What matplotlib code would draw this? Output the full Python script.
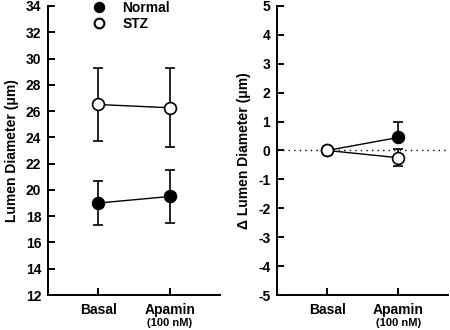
import matplotlib
matplotlib.use("Agg")
import matplotlib.pyplot as plt
from matplotlib.lines import Line2D
from matplotlib.transforms import blended_transform_factory

plt.rcParams["font.family"] = ["Liberation Sans", "DejaVu Sans"]
plt.rcParams["font.weight"] = "bold"
plt.rcParams["axes.unicode_minus"] = False

# Data
conditions = ["Basal", "Apamin"]
normal_mean = [19.0, 19.5]
normal_sem = [1.65, 2.0]
stz_mean = [26.5, 26.25]
stz_sem = [2.8, 3.0]

delta_normal = [0.0, 0.45]
delta_normal_sem = [0.0, 0.55]
delta_stz = [0.0, -0.25]
delta_stz_sem = [0.0, 0.3]

left_ticks = list(range(12, 35, 2))
right_ticks = list(range(-5, 6))
x = [0, 1]

fig = plt.figure(figsize=(4.5, 3.3), dpi=100)
ax1 = fig.add_axes([0.107, 0.106, 0.382, 0.876])
ax2 = fig.add_axes([0.616, 0.106, 0.380, 0.876])

FS = 10
mk = dict(marker="o", markersize=8.5, markeredgewidth=1.2, markeredgecolor="black",
          color="black", linewidth=1.0, capsize=3.6, elinewidth=1.2, capthick=1.2)

# left panel: absolute diameter
ax1.errorbar(x, normal_mean, yerr=normal_sem, markerfacecolor="black", zorder=3, **mk)
ax1.errorbar(x, stz_mean, yerr=stz_sem, markerfacecolor="white", zorder=3, **mk)
ax1.set_ylim(12, 34)
ax1.set_ylabel("Lumen Diameter (μm)", fontsize=10, fontweight="bold", labelpad=5)

handles = [
    Line2D([], [], linestyle="none", marker="o", markersize=7, color="black",
           markerfacecolor="black", markeredgewidth=1.2),
    Line2D([], [], linestyle="none", marker="o", markersize=7, color="black",
           markerfacecolor="white", markeredgewidth=1.5),
]
ax1.legend(handles, ["Normal", "STZ"], loc="upper left", bbox_to_anchor=(0.20, 1.05),
           frameon=False, fontsize=10, handlelength=1.0, handletextpad=1.15,
           labelspacing=0.15, borderpad=0.2)

# right panel: change from basal
ax2.axhline(0, color="black", linestyle=(0, (1, 3)), linewidth=1.0, zorder=1)
ax2.errorbar(x, delta_normal, yerr=[[0, 0], delta_normal_sem], markerfacecolor="black", zorder=3, **mk)
ax2.errorbar(x, delta_stz, yerr=delta_stz_sem, markerfacecolor="white", zorder=4, **mk)
ax2.set_ylim(-5, 5)
ax2.set_ylabel("Δ Lumen Diameter (μm)", fontsize=10, fontweight="bold", labelpad=5)

for ax, yt in ((ax1, left_ticks), (ax2, right_ticks)):
    ax.set_xlim(-0.7, 1.7)
    ax.set_xticks(x)
    ax.set_xticklabels(conditions, fontsize=FS, fontweight="bold")
    ax.set_yticks(yt)
    ax.set_yticklabels([str(v) for v in yt], fontsize=FS, fontweight="bold")
    ax.spines[["top", "right"]].set_visible(False)
    ax.spines[["left", "bottom"]].set_linewidth(1.4)
    ax.tick_params(direction="in", length=5, width=1.4, pad=5)
    ax.tick_params(axis="x", pad=6)
    trans = blended_transform_factory(ax.transData, ax.transAxes)
    ax.text(1, -0.079, "(100 nM)", transform=trans, ha="center", va="top",
            fontsize=8, fontweight="bold")

fig.savefig("out.png", dpi=100)
